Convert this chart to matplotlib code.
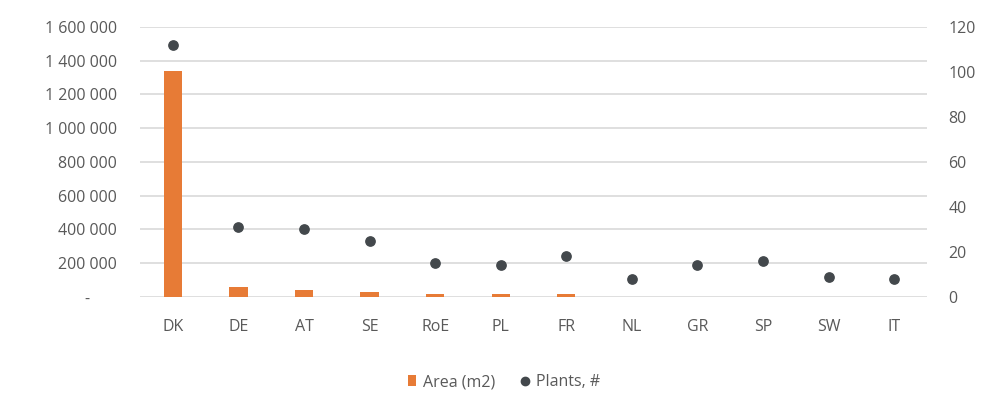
import matplotlib.pyplot as plt
from matplotlib.lines import Line2D
from matplotlib.patches import Patch

countries = ["DK", "DE", "AT", "SE", "RoE", "PL", "FR", "NL", "GR", "SP", "SW", "IT"]
area_m2 = [1340000, 59000, 41000, 28000, 16000, 16000, 16000, 0, 0, 0, 0, 0]
plants = [112, 31, 30, 25, 15, 14, 18, 8, 14, 16, 9, 8]

left_ticks = [0, 200000, 400000, 600000, 800000, 1000000, 1200000, 1400000, 1600000]
right_ticks = [0, 20, 40, 60, 80, 100, 120]

orange = "#e77b36"
dot = "#43484c"
txt = "#595959"
grid = "#d9d9d9"

plt.rcParams["font.family"] = ["Open Sans", "DejaVu Sans"]

fig = plt.figure(figsize=(9.82, 3.94), dpi=100)
ax = fig.add_axes([0.1426, 0.2462, 0.8014, 0.6853])
ax2 = ax.twinx()

x = list(range(len(countries)))
ax.bar(x, area_m2, width=0.28, color=orange, zorder=3)
ax2.scatter(x, plants, s=45, color=dot, zorder=4)

ax.set_xlim(-0.5, len(countries) - 0.5)
ax.set_ylim(0, 1600000)
ax2.set_ylim(0, 120)

def fmt(v):
    if v == 0:
        return "-" + "\u2007" * 3
    return f"{v:,}".replace(",", " ")

ax.set_yticks(left_ticks)
ax.set_yticklabels([fmt(v) for v in left_ticks])
ax2.set_yticks(right_ticks)
ax2.set_yticklabels([str(v) for v in right_ticks])
ax.set_xticks(x)
ax.set_xticklabels(countries)

ax.grid(axis="y", color=grid, linewidth=1.2, zorder=0)
ax.set_axisbelow(True)
for a in (ax, ax2):
    for s in a.spines.values():
        s.set_visible(False)
ax.tick_params(axis="y", length=0, pad=16.5, labelsize=11.5, labelcolor=txt)
ax.tick_params(axis="x", length=0, pad=16, labelsize=11.5, labelcolor=txt)
ax2.tick_params(axis="y", length=0, pad=15.5, labelsize=11.5, labelcolor=txt)

handles = [
    Patch(facecolor=orange, label="Area (m2)"),
    Line2D([0], [0], marker="o", linestyle="none", color=dot, markersize=6, label="Plants, #"),
]
fig.legend(handles=handles, loc="center", bbox_to_anchor=(0.513, 0.03), ncol=2,
           frameon=False, fontsize=11.5, labelcolor=txt, handlelength=0.5,
           handletextpad=0.45, columnspacing=1.6)

fig.savefig("out.png", dpi=100)
